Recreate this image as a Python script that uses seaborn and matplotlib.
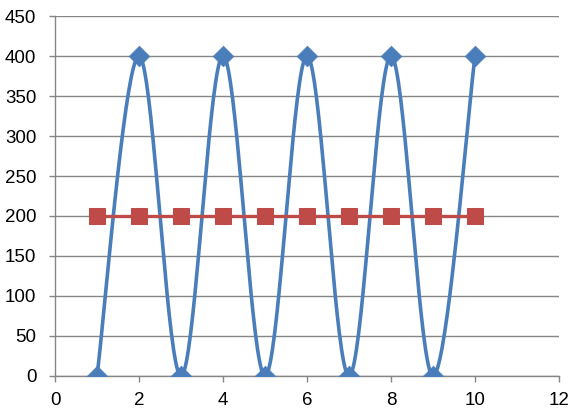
"""
    Grafico de linhas suavizadas no estilo Excel: uma serie oscilante
    (0 / 400) e uma serie constante em 200.
"""

import numpy as np
import pandas as pd
from matplotlib import pyplot as plt
import seaborn as sns

# Dados
x_vals = [1, 2, 3, 4, 5, 6, 7, 8, 9, 10]
serie_azul = [0, 400, 0, 400, 0, 400, 0, 400, 0, 400]
serie_vermelha = [200, 200, 200, 200, 200, 200, 200, 200, 200, 200]
y_ticks = [0, 50, 100, 150, 200, 250, 300, 350, 400, 450]
x_ticks = [0, 2, 4, 6, 8, 10, 12]

AZUL = "#4A7EBB"
VERMELHO = "#BE4B48"
CINZA = "#868686"


def catmull_rom(xs, ys, n=40):
    """ Suaviza a linha como o Excel faz (spline Catmull-Rom) """
    pts = np.column_stack([xs, ys]).astype(float)
    pts = np.vstack([pts[0], pts, pts[-1]])
    t = np.linspace(0, 1, n)[:, None]
    out = []
    for i in range(1, len(pts) - 2):
        p0, p1, p2, p3 = pts[i - 1], pts[i], pts[i + 1], pts[i + 2]
        seg = 0.5 * ((2 * p1) + (-p0 + p2) * t
                     + (2 * p0 - 5 * p1 + 4 * p2 - p3) * t ** 2
                     + (-p0 + 3 * p1 - 3 * p2 + p3) * t ** 3)
        out.append(seg if i == 1 else seg[1:])
    curve = np.vstack(out)
    return curve[:, 0], curve[:, 1]


def graph_plot():
    """ Esta funcao gera o grafico e salva em out.png """
    sns.set_theme(style="white")
    plt.rcParams['font.family'] = ['Liberation Sans', 'DejaVu Sans']

    df = pd.DataFrame({"x": x_vals, "azul": serie_azul, "vermelha": serie_vermelha})
    cx, cy = catmull_rom(df["x"], df["azul"])
    df_curva = pd.DataFrame({"x": cx, "y": cy})

    fig = plt.figure(figsize=(5.76, 4.16), dpi=100)
    ax = fig.add_axes([0.0955, 0.0962, 0.875, 0.8653])

    sns.lineplot(data=df_curva, x="x", y="y", sort=False, color=AZUL,
                 linewidth=2.6, ax=ax, zorder=3)
    sns.scatterplot(data=df, x="x", y="azul", marker="D", s=110,
                    color=AZUL, edgecolor=AZUL, linewidth=0.5, ax=ax, zorder=4)
    sns.lineplot(data=df, x="x", y="vermelha", color=VERMELHO, linewidth=2.4,
                 marker="s", markersize=11, markeredgecolor=VERMELHO,
                 ax=ax, zorder=5)

    ax.set_xlim(0, 12)
    ax.set_ylim(0, 450)
    ax.set_xticks(x_ticks)
    ax.set_yticks(y_ticks)
    ax.set_xlabel("")
    ax.set_ylabel("")

    ax.grid(axis="y", color=CINZA, linewidth=1)
    ax.set_axisbelow(True)
    for lado in ["top", "right"]:
        ax.spines[lado].set_visible(False)
    for lado in ["left", "bottom"]:
        ax.spines[lado].set_color(CINZA)
        ax.spines[lado].set_linewidth(1)

    ax.tick_params(axis="both", which="both", length=4.5, width=1, color=CINZA,
                   direction="out", labelsize=13.5, labelcolor="black")
    ax.tick_params(axis="y", left=True, pad=9)
    ax.tick_params(axis="x", bottom=True, pad=7)

    fig.savefig("out.png", dpi=100)


if __name__ == '__main__':
    graph_plot()
